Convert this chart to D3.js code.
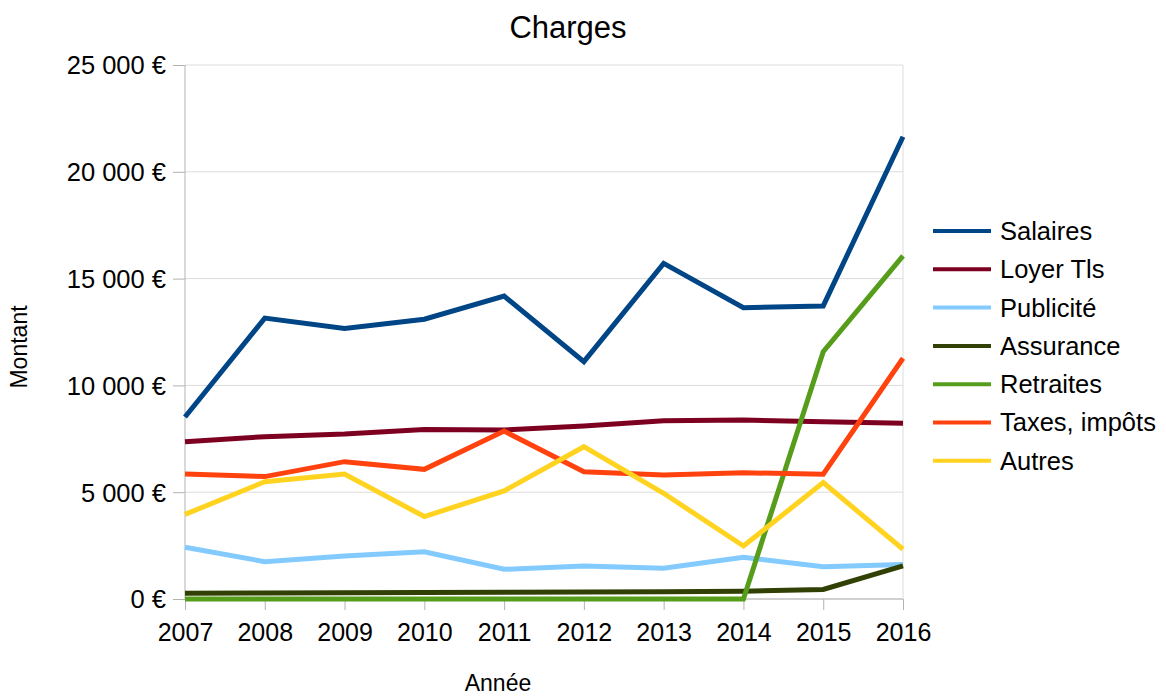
<!DOCTYPE html>
<html>
<head>
<meta charset="utf-8">
<script src="https://cdn.jsdelivr.net/npm/d3@7/dist/d3.min.js"></script>
<style>
  body { margin: 0; background: #fff; }
  text { font-family: "Liberation Sans", Arial, sans-serif; fill: #000; }
</style>
</head>
<body>
<div class="chart"></div>
<script>
// years on the x axis
var years = ["2007","2008","2009","2010","2011","2012","2013","2014","2015","2016"];
var yTicks = [0, 5000, 10000, 15000, 20000, 25000];

// series values
var salaires   = [8520, 13150, 12670, 13100, 14180, 11110, 15710, 13640, 13720, 21640];
var loyer      = [7360, 7600, 7720, 7940, 7910, 8100, 8340, 8380, 8300, 8230];
var publicite  = [2420, 1750, 2010, 2210, 1390, 1540, 1440, 1950, 1510, 1620];
var assurance  = [270, 285, 290, 300, 320, 330, 340, 360, 450, 1550];
var retraites  = [0, 0, 0, 0, 0, 0, 0, 0, 11580, 16060];
var taxes      = [5850, 5730, 6430, 6070, 7860, 5960, 5800, 5910, 5840, 11270];
var autres     = [3960, 5490, 5850, 3860, 5060, 7130, 4950, 2480, 5450, 2330];

var seriesNames = ["Salaires", "Loyer Tls", "Publicité", "Assurance", "Retraites", "Taxes, impôts", "Autres"];
var seriesColors = ["#004586", "#7e0021", "#83caff", "#314004", "#579d1c", "#ff420e", "#ffd320"];
var seriesValues = [salaires, loyer, publicite, assurance, retraites, taxes, autres];

var svgWidth = 1166, svgHeight = 698;
var margin = {top: 65, left: 185, right: 263, bottom: 99};
var chart_width = svgWidth - margin.left - margin.right,
    chart_height = svgHeight - margin.top - margin.bottom;

var svg = d3.select(".chart")
  .append("svg")
    .attr("width", svgWidth)
    .attr("height", svgHeight);

var g = svg.append("g")
  .attr("transform", "translate(" + margin.left + "," + margin.top + ")");

var x = d3.scalePoint()
  .domain(years)
  .range([0, chart_width]);

var y = d3.scaleLinear()
  .domain([0, 25000])
  .range([chart_height, 0]);

function euro(v) {
  // french style thousands with a space
  var s = d3.format(",")(v).replace(/,/g, " ");
  return s + " €";
}

// grid lines
g.selectAll(".grid")
  .data(yTicks)
  .enter()
  .append("line")
    .attr("x1", 0)
    .attr("x2", chart_width)
    .attr("y1", function(d){ return y(d); })
    .attr("y2", function(d){ return y(d); })
    .attr("stroke", "#dcdcdc")
    .attr("stroke-width", 1);

// right edge of the plot area
g.append("line")
  .attr("x1", chart_width).attr("x2", chart_width)
  .attr("y1", 0).attr("y2", chart_height)
  .attr("stroke", "#dcdcdc");

// y axis
var yAxis = g.append("g")
  .call(d3.axisLeft(y).tickValues(yTicks).tickSize(12).tickPadding(7).tickFormat(euro));
yAxis.select(".domain").attr("stroke", "#b3b3b3").attr("d", "M0,0V" + chart_height);
yAxis.selectAll(".tick line").attr("stroke", "#b3b3b3");
yAxis.selectAll("text").style("font-size", "25.5px").attr("dy", "0.35em");

// x axis
var xAxis = g.append("g")
  .attr("transform", "translate(0," + chart_height + ")")
  .call(d3.axisBottom(x).tickSize(11).tickPadding(13));
xAxis.select(".domain").attr("stroke", "#b3b3b3").attr("d", "M0,0H" + chart_width);
xAxis.selectAll(".tick line").attr("stroke", "#b3b3b3");
xAxis.selectAll("text").style("font-size", "25px");

// lines
var line = d3.line()
  .x(function(d, i){ return x(years[i]); })
  .y(function(d){ return y(d); });

g.selectAll(".serie")
  .data(seriesValues)
  .enter()
  .append("path")
    .attr("class", "serie")
    .attr("d", function(d){ return line(d); })
    .attr("fill", "none")
    .attr("stroke", function(d, i){ return seriesColors[i]; })
    .attr("stroke-width", 5)
    .attr("stroke-linejoin", "miter");

// title
svg.append("text")
  .attr("x", 568)
  .attr("y", 38)
  .attr("text-anchor", "middle")
  .style("font-size", "31px")
  .text("Charges");

// axis titles
svg.append("text")
  .attr("transform", "translate(27,347) rotate(-90)")
  .attr("text-anchor", "middle")
  .style("font-size", "23px")
  .text("Montant");

svg.append("text")
  .attr("x", 498)
  .attr("y", 691)
  .attr("text-anchor", "middle")
  .style("font-size", "23px")
  .text("Année");

// legend
var legend = svg.append("g")
  .attr("transform", "translate(933,231)");

var items = legend.selectAll(".item")
  .data(seriesNames)
  .enter()
  .append("g")
    .attr("transform", function(d, i){ return "translate(0," + (i * 38.3) + ")"; });

items.append("line")
  .attr("x1", 0).attr("x2", 58)
  .attr("stroke", function(d, i){ return seriesColors[i]; })
  .attr("stroke-width", 4);

items.append("text")
  .attr("x", 67)
  .attr("dy", "0.35em")
  .style("font-size", "25.5px")
  .text(function(d){ return d; });
</script>
</body>
</html>
